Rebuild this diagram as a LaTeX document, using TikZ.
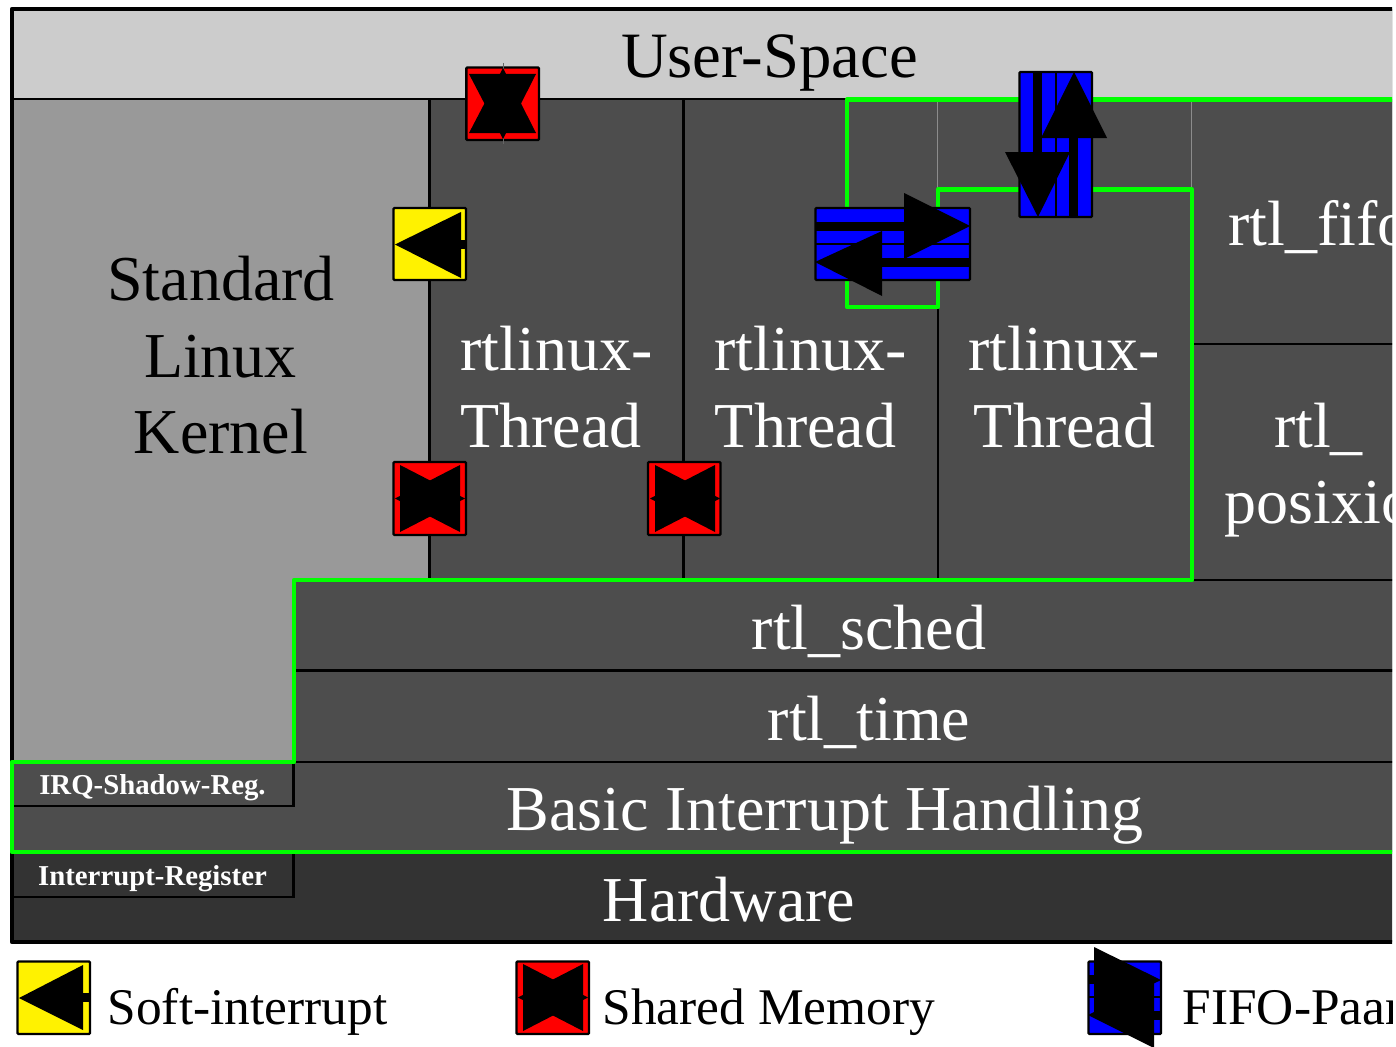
\documentclass[tikz,border=0pt]{standalone}
\usepackage{fontspec}
\setmainfont{Liberation Serif}
\definecolor{userspace}{HTML}{CCCCCC}
\definecolor{linuxgray}{HTML}{999999}
\definecolor{rtdark}{HTML}{4D4D4D}
\definecolor{hwdark}{HTML}{333333}
\definecolor{rtgreen}{HTML}{00FF00}
\tikzset{
  px/.style={x=1pt,y=-1pt},
  big/.style={font=\fontsize{64}{77}\selectfont,anchor=base,inner sep=0pt,align=center,text=white},
  bigblack/.style={big,text=black},
  small/.style={font=\fontsize{28.8}{32}\selectfont\bfseries,anchor=base,inner sep=0pt,text=white},
  legend/.style={font=\fontsize{51.4}{60}\selectfont,anchor=base west,inner sep=0pt,text=black},
  divider/.style={draw=black,line width=2.4pt},
  faint/.style={draw=black!45!white,line width=0.8pt},
  greenline/.style={draw=rtgreen,line width=4.6pt,line join=round},
  icon/.style={draw=black,line width=2.4pt,rounded corners=1pt},
  head/.style={fill=black,draw=none},
  stem/.style={draw=black,line width=9pt},
}
\begin{document}
\begin{tikzpicture}[px]
\useasboundingbox (0,0) rectangle (1396,1046);
\begin{scope}
\clip (0,0) rectangle (1392,1046);
% areas
\fill[hwdark] (12,9) rectangle (1400,942);
\fill[rtdark] (12,99) rectangle (1400,852);
\fill[userspace] (12,9) rectangle (1400,99);
\fill[linuxgray] (12,99) -- (429.5,99) -- (429.5,580) -- (294,580) -- (294,762) -- (12,762) -- cycle;
% dividers
\draw[divider] (12,99) -- (847,99);
\draw[divider] (429.5,99) -- (429.5,580);
\draw[divider] (683.5,99) -- (683.5,580);
\draw[divider] (938,307) -- (938,580);
\draw[divider] (1192,344) -- (1400,344);
\draw[divider] (1192,580) -- (1400,580);
\draw[divider] (294,670.5) -- (1400,670.5);
\draw[divider] (294,762) -- (1400,762);
\draw[divider] (12,806) -- (293.5,806) -- (293.5,762);
\draw[divider] (12,897) -- (293.5,897) -- (293.5,852);
\draw[faint] (937.5,99) -- (937.5,189);
\draw[faint] (1191.5,99) -- (1191.5,189);
% outer frame and green outline
\draw[draw=black,line width=4.4pt,line join=round] (1400,9) -- (12,9) -- (12,942) -- (1400,942);
\draw[greenline] (1400,99.5) -- (847,99.5) -- (847,307) -- (938,307) -- (938,189.5) -- (1192,189.5) -- (1192,580) -- (294,580) -- (294,762) -- (12,762) -- (12,852) -- (1400,852);
% labels
\node[bigblack,font=\fontsize{64.7}{77}\selectfont] (user) at (769.5,78) {User-Space};
\node[bigblack] (kernel1) at (221,300) {Standard};
\node[bigblack] (kernel2) at (220.5,377) {Linux};
\node[bigblack] (kernel3) at (221,453.5) {Kernel};
\node[big] (t1a) at (556.5,370) {rtlinux-};
\node[big] (t1b) at (551,447) {Thread};
\node[big] (t2a) at (810.5,370) {rtlinux-};
\node[big] (t2b) at (805.5,447) {Thread};
\node[big] (t3a) at (1064,370) {rtlinux-};
\node[big] (t3b) at (1064.5,447) {Thread};
\node[big,anchor=base west] (fifo) at (1228,245) {rtl\_fifo};
\node[big] (posa) at (1318.5,447) {rtl\_};
\node[big,anchor=base west] (posb) at (1224.5,523) {posixio};
\node[big] (sched) at (869,649) {rtl\_sched};
\node[big] (time) at (869,740) {rtl\_time};
\node[big] (bih) at (825,830) {Basic Interrupt Handling};
\node[big] (hw) at (729,921) {Hardware};
\node[small] (irq) at (152.5,794) {IRQ-Shadow-Reg.};
\node[small] (ireg) at (152.5,885) {Interrupt-Register};
% shared memory, top
\draw[icon,fill=red] (466.3,67.5) rectangle (539,140);
\draw[draw=black!60!white,line width=1pt] (503,63) -- (503,144);
\fill[head] (469,74) -- (536,74) -- (503,139) -- cycle;
\fill[head] (469,133) -- (536,133) -- (503,68) -- cycle;
% soft interrupt
\draw[icon,fill=yellow] (393.5,208) rectangle (466,280);
\draw[stem] (459,244.5) -- (466,244.5);
\fill[head] (395,244.5) -- (461,212) -- (461,278) -- cycle;
% shared memory, middle
\draw[icon,fill=red] (393.5,462) rectangle (466,535);
\fill[head] (395,498.5) -- (460,465) -- (460,532) -- cycle;
\fill[head] (465,498.5) -- (400,465) -- (400,532) -- cycle;
\draw[icon,fill=red] (648,462) rectangle (720.5,535);
\fill[head] (650,498.5) -- (715,465) -- (715,532) -- cycle;
\fill[head] (720,498.5) -- (655,465) -- (655,532) -- cycle;
% fifo, horizontal
\draw[icon,fill=blue] (815.5,208) rectangle (970,280);
\draw[draw=black,line width=1.6pt] (815,244) -- (970,244);
\draw[stem] (815,226.5) -- (905,226.5);
\draw[stem] (881,262.5) -- (970,262.5);
\fill[head] (970,226) -- (904,193) -- (904,259) -- cycle;
\fill[head] (815,262) -- (882,231) -- (882,296) -- cycle;
% fifo, vertical
\draw[icon,fill=blue] (1019.5,72) rectangle (1092,217);
\draw[draw=black,line width=1.6pt] (1056,72) -- (1056,217);
\draw[stem] (1037.5,72) -- (1037.5,153);
\draw[stem] (1073.5,137) -- (1073.5,217);
\fill[head] (1074,72) -- (1041,138) -- (1107,138) -- cycle;
\fill[head] (1038,217) -- (1005,152) -- (1070,152) -- cycle;
% legend
\draw[icon,fill=yellow] (17.5,961.5) rectangle (90,1034);
\draw[stem] (82,997.5) -- (90,997.5);
\fill[head] (19,998) -- (83,965) -- (83,1030) -- cycle;
\node[legend] (lsoft) at (107.5,1024) {Soft-interrupt};
\draw[icon,fill=red] (516.5,961.5) rectangle (589,1034);
\fill[head] (518,997.5) -- (583,964) -- (583,1031) -- cycle;
\fill[head] (588,997.5) -- (523,964) -- (523,1031) -- cycle;
\node[legend] (lshared) at (602.5,1024) {Shared Memory};
\draw[icon,fill=blue] (1088.5,961.5) rectangle (1161,1034);
\draw[draw=black,line width=1.6pt] (1088,997) -- (1161,997);
\draw[stem] (1088,979.5) -- (1095,979.5);
\draw[stem] (1153,1015.5) -- (1161,1015.5);
\fill[head] (1161,980) -- (1094,947) -- (1094,1013) -- cycle;
\fill[head] (1088,1015) -- (1154,982) -- (1154,1048) -- cycle;
\node[legend] (lfifo) at (1182.5,1024) {FIFO-Paar};
\end{scope}
\end{tikzpicture}
\end{document}
